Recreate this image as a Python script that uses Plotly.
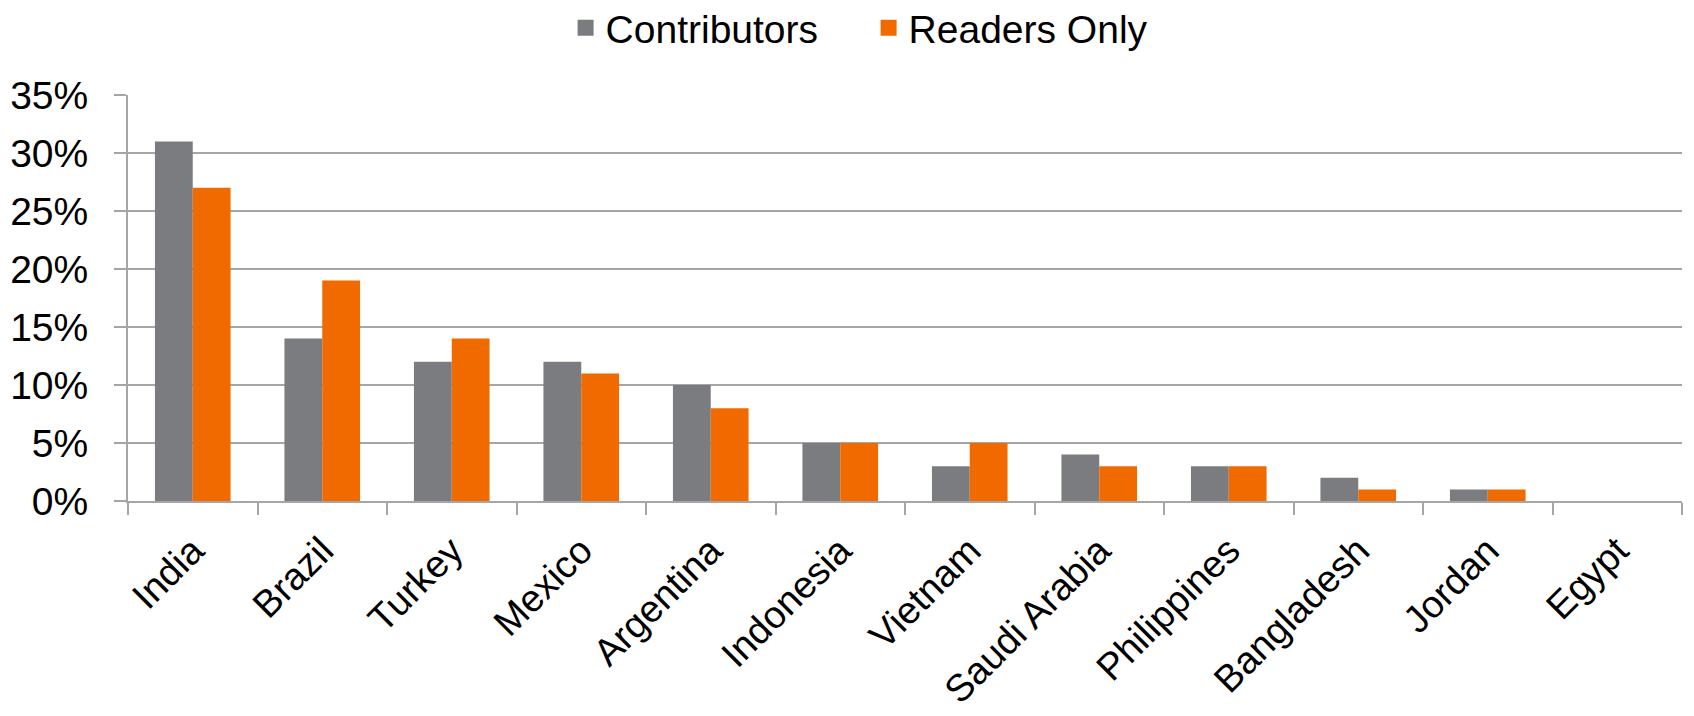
import plotly.graph_objects as go

countries = ["India", "Brazil", "Turkey", "Mexico", "Argentina", "Indonesia",
             "Vietnam", "Saudi Arabia", "Philippines", "Bangladesh", "Jordan", "Egypt"]
contributors = [0.31, 0.14, 0.12, 0.12, 0.10, 0.05, 0.03, 0.04, 0.03, 0.02, 0.01, 0.0]
readers_only = [0.27, 0.19, 0.14, 0.11, 0.08, 0.05, 0.05, 0.03, 0.03, 0.01, 0.01, 0.0]
series_names = ["Contributors", "Readers Only"]
series_colors = ["#7b7c80", "#f06a00"]

GRID = "#a6a6a6"
FONT = "Liberation Sans, Arial, sans-serif"

fig = go.Figure()
for name, vals, col in zip(series_names, [contributors, readers_only], series_colors):
    fig.add_trace(go.Bar(name=name, x=countries, y=vals, showlegend=False,
                         marker=dict(color=col, line=dict(width=0))))
# legend entries with larger square swatches
for name, col in zip(series_names, series_colors):
    fig.add_trace(go.Scatter(name=name, x=[None], y=[None], mode="markers",
                             marker=dict(symbol="square", size=22, color=col),
                             showlegend=True, hoverinfo="skip"))

fig.update_layout(
    width=1686, height=708,
    margin=dict(l=120, r=12, t=87, b=215, autoexpand=False),
    paper_bgcolor="white", plot_bgcolor="white",
    barmode="group", bargap=0.416, bargroupgap=0,
    font=dict(family=FONT, color="#000000"),
    showlegend=True,
    legend=dict(orientation="h", x=0.2816, xanchor="left", y=1.165, yanchor="middle",
                xref="paper", yref="paper",
                font=dict(family=FONT, size=39),
                itemsizing="trace",
                traceorder="normal", entrywidth=258, entrywidthmode="pixels"),
)
fig.update_xaxes(
    type="category", categoryorder="array", categoryarray=countries,
    showgrid=False, showline=True, linecolor=GRID, linewidth=2,
    ticks="outside", tickson="boundaries", ticklen=12, tickcolor=GRID, tickwidth=2,
    tickangle=-45, tickfont=dict(size=38, family=FONT), ticklabelstandoff=10,
    automargin=False,
)
fig.update_yaxes(
    range=[0, 0.35], dtick=0.05, tickformat=".0%",
    showgrid=True, gridcolor=GRID, gridwidth=2,
    showline=True, linecolor=GRID, linewidth=2,
    ticks="outside", ticklen=12, tickcolor=GRID, tickwidth=2,
    tickfont=dict(size=39, family=FONT), ticklabelstandoff=18,
    zeroline=False, automargin=False,
)

fig.write_html("out.html")
